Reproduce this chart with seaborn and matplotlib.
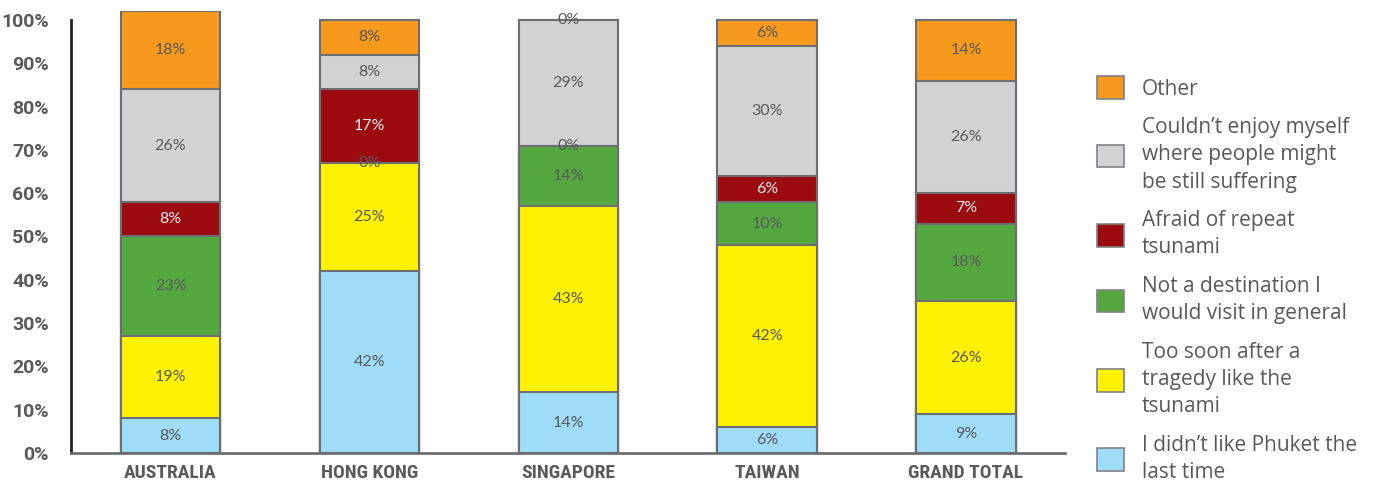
import matplotlib
matplotlib.use("Agg")
import matplotlib.pyplot as plt
from matplotlib import font_manager
from matplotlib.patches import Patch
import numpy as np
import pandas as pd
import seaborn as sns

regions = ["AUSTRALIA", "HONG KONG", "SINGAPORE", "TAIWAN", "GRAND TOTAL"]

# stacked from bottom to top
series = [
    "I didn\u2019t like Phuket the\nlast time",
    "Too soon after a\ntragedy like the\ntsunami",
    "Not a destination I\nwould visit in general",
    "Afraid of repeat\ntsunami",
    "Couldn\u2019t enjoy myself\nwhere people might\nbe still suffering",
    "Other",
]
didnt_like = [8, 42, 14, 6, 9]
too_soon = [19, 25, 43, 42, 26]
not_destination = [23, 0, 14, 10, 18]
afraid_repeat = [8, 17, 0, 6, 7]
couldnt_enjoy = [26, 8, 29, 30, 26]
other = [18, 8, 0, 6, 14]

values = [didnt_like, too_soon, not_destination, afraid_repeat, couldnt_enjoy, other]
colors = ["#9EDCF7", "#FFF200", "#55A83F", "#9B0A0E", "#D1D2D4", "#F7991C"]
yticks = [0, 10, 20, 30, 40, 50, 60, 70, 80, 90, 100]
ytick_labels = [f"{t}%" for t in yticks]

text_gray = "#58595B"
edge_gray = "#6D6E71"


def pick_font(candidates, **props):
    for name in candidates:
        try:
            font_manager.findfont(font_manager.FontProperties(family=name, **props),
                                  fallback_to_default=False)
            return name
        except Exception:
            continue
    return "DejaVu Sans"


narrow_font = pick_font(["Liberation Sans Narrow", "Roboto Condensed", "DejaVu Sans Condensed"],
                        weight="bold")

sns.set_theme(style="white")
plt.rcParams["font.family"] = ["Open Sans", "DejaVu Sans"]

fig = plt.figure(figsize=(13.87, 4.86), dpi=100)
ax = fig.add_axes([0.0512, 0.0679, 0.7170, 0.9088])

vals = np.array(values, dtype=float)
cum = np.cumsum(vals, axis=0)

# draw cumulative totals from the top series down so each layer covers the upper one's lower part
for i in range(len(series) - 1, -1, -1):
    df = pd.DataFrame({"region": regions, "cum": cum[i]})
    sns.barplot(data=df, x="region", y="cum", order=regions, color=colors[i],
                saturation=1, width=0.5, edgecolor=edge_gray, linewidth=1.5,
                ax=ax, zorder=2 + (len(series) - i) * 0.01)

# segment labels
for i in range(len(series)):
    for j in range(len(regions)):
        v = vals[i, j]
        mid = cum[i, j] - v / 2
        col = "#EDEDED" if (i == 3 and v > 0) else text_gray
        ax.text(j, mid, f"{int(v)}%", ha="center", va="center", fontsize=11.5,
                color=col, family=["Lato", "DejaVu Sans"], zorder=10)

ax.set_xlim(-0.5, 4.5)
ax.set_ylim(0, 102)
ax.set_yticks(yticks)
ax.set_yticklabels(ytick_labels)
ax.set_xlabel("")
ax.set_ylabel("")

for s in ["top", "right"]:
    ax.spines[s].set_visible(False)
ax.spines["left"].set_bounds(0, 100)
ax.spines["left"].set_color("#231F20")
ax.spines["left"].set_linewidth(2)
ax.spines["bottom"].set_color("#6D6E71")
ax.spines["bottom"].set_linewidth(2)

ax.tick_params(axis="y", direction="in", length=7, width=2, color="#231F20",
               pad=16, labelsize=14, labelcolor=text_gray)
ax.tick_params(axis="x", length=0, pad=8, labelcolor=text_gray)
for lab in ax.get_yticklabels():
    lab.set_fontweight("bold")
    lab.set_family(["Roboto", "DejaVu Sans"])
for lab in ax.get_xticklabels():
    lab.set_fontweight("bold")
    lab.set_family([narrow_font, "DejaVu Sans"])
    lab.set_fontsize(14 if narrow_font != "DejaVu Sans" else 12)

handles = [Patch(facecolor=colors[i], edgecolor="#808285", linewidth=1.2, label=series[i])
           for i in range(len(series) - 1, -1, -1)]
leg = fig.legend(handles=handles, loc="upper left", bbox_to_anchor=(0.791, 0.843),
                 frameon=False, fontsize=15, labelcolor=text_gray,
                 handlelength=1.3, handleheight=1.3, handletextpad=0.85,
                 labelspacing=0.85, borderaxespad=0, borderpad=0)
for t in leg.get_texts():
    t.set_linespacing(1.38)

fig.savefig("out.png", dpi=100)
